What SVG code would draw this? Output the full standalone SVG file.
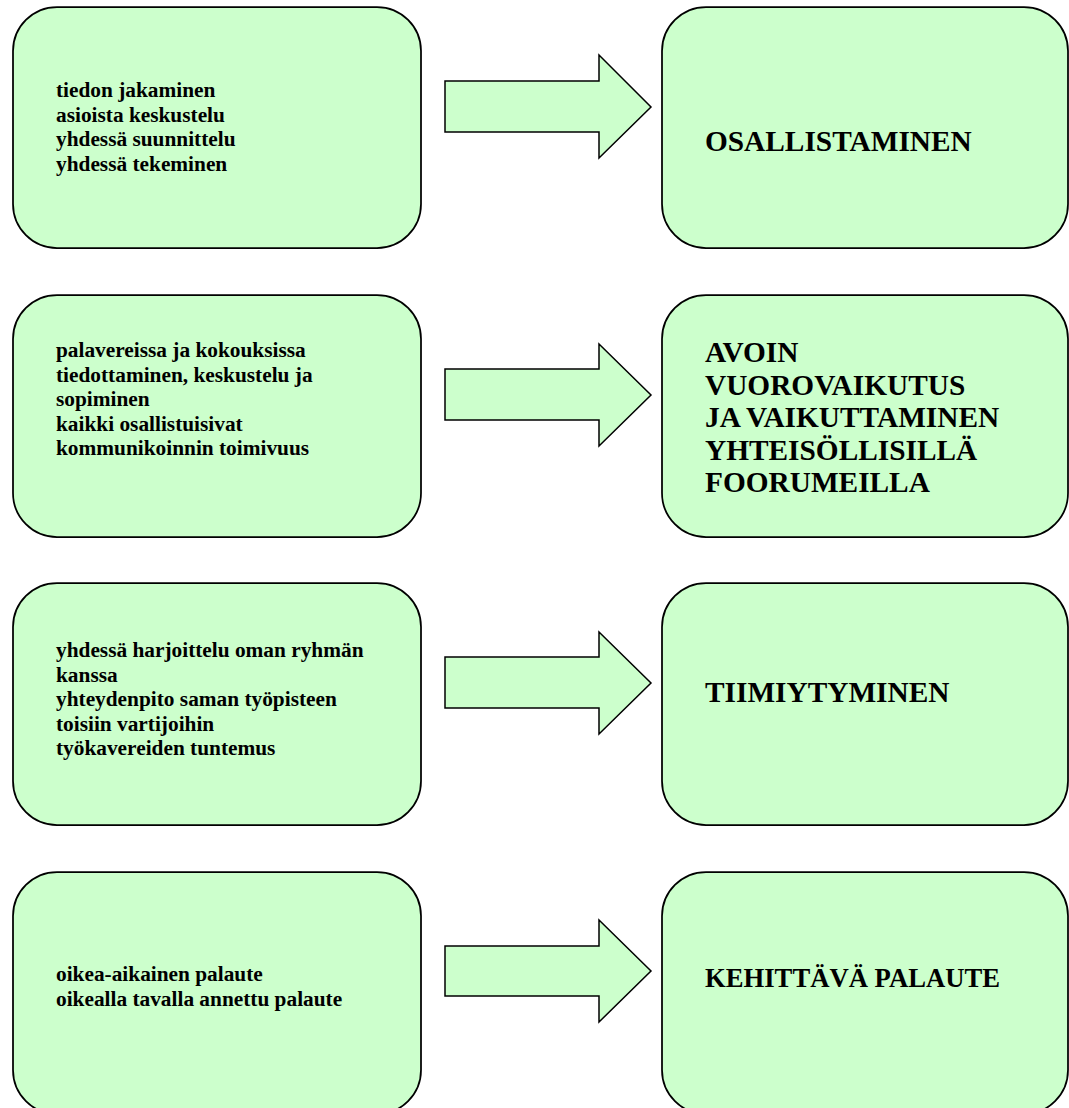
<svg xmlns="http://www.w3.org/2000/svg" width="1069" height="1108" viewBox="0 0 1069 1108">
<style>
.box{fill:#CCFFCC;stroke:#000;stroke-width:1.75}
.arr{fill:#CCFFCC;stroke:#000;stroke-width:1.5;stroke-linejoin:miter}
.s{font-family:"Liberation Serif","Times New Roman",serif;font-weight:bold;font-size:21.33px;fill:#000}
.b{font-family:"Liberation Serif","Times New Roman",serif;font-weight:bold;font-size:29.33px;fill:#000}
.m{font-family:"Liberation Serif","Times New Roman",serif;font-weight:bold;font-size:26.67px;fill:#000}
</style>
<rect width="1069" height="1108" fill="#fff"/>
<g id="connectors">
<polygon class="arr" points="445,81 599,81 599,55 651,107 599,158 599,132 445,132"/>
<polygon class="arr" points="445,369 599,369 599,344 651,395 599,446 599,420 445,420"/>
<polygon class="arr" points="445,657 599,657 599,632 651,683 599,734 599,708 445,708"/>
<polygon class="arr" points="445,946 599,946 599,920 651,971 599,1022 599,996 445,996"/>
</g>
<g id="src1"><rect class="box" x="13" y="7" width="408" height="241" rx="44" ry="44"/>
<text class="s" x="56" y="97">tiedon jakaminen</text>
<text class="s" x="56" y="121.5">asioista keskustelu</text>
<text class="s" x="56" y="146">yhdessä suunnittelu</text>
<text class="s" x="56" y="170.5">yhdessä tekeminen</text></g>
<g id="dst1"><rect class="box" x="662" y="7" width="406" height="241" rx="44" ry="44"/>
<text class="b" x="705" y="151">OSALLISTAMINEN</text></g>
<g id="src2"><rect class="box" x="13" y="295" width="408" height="242" rx="44" ry="44"/>
<text class="s" x="56" y="357">palavereissa ja kokouksissa</text>
<text class="s" x="56" y="381.5">tiedottaminen, keskustelu ja</text>
<text class="s" x="56" y="406">sopiminen</text>
<text class="s" x="56" y="430.5">kaikki osallistuisivat</text>
<text class="s" x="56" y="455">kommunikoinnin toimivuus</text></g>
<g id="dst2"><rect class="box" x="662" y="295" width="406" height="242" rx="44" ry="44"/>
<text class="b" x="705" y="362">AVOIN</text>
<text class="b" x="705" y="394.5">VUOROVAIKUTUS</text>
<text class="b" x="705" y="427">JA VAIKUTTAMINEN</text>
<text class="b" x="705" y="459.5">YHTEISÖLLISILLÄ</text>
<text class="b" x="705" y="492">FOORUMEILLA</text></g>
<g id="src3"><rect class="box" x="13" y="583" width="408" height="242" rx="44" ry="44"/>
<text class="s" x="56" y="657">yhdessä harjoittelu oman ryhmän</text>
<text class="s" x="56" y="681.5">kanssa</text>
<text class="s" x="56" y="706">yhteydenpito saman työpisteen</text>
<text class="s" x="56" y="730.5">toisiin vartijoihin</text>
<text class="s" x="56" y="755">työkavereiden tuntemus</text></g>
<g id="dst3"><rect class="box" x="662" y="583" width="406" height="242" rx="44" ry="44"/>
<text class="b" x="705" y="702">TIIMIYTYMINEN</text></g>
<g id="src4"><rect class="box" x="13" y="872" width="408" height="242" rx="44" ry="44"/>
<text class="s" x="56" y="981">oikea-aikainen palaute</text>
<text class="s" x="56" y="1005.5">oikealla tavalla annettu palaute</text></g>
<g id="dst4"><rect class="box" x="662" y="872" width="406" height="242" rx="44" ry="44"/>
<text class="m" x="705" y="987">KEHITTÄVÄ PALAUTE</text></g>
</svg>
